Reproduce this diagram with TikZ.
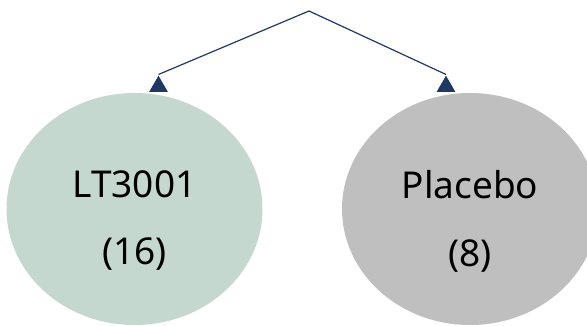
\documentclass[tikz,border=0pt]{standalone}
\usepackage{fontspec}
\setmainfont{Noto Sans}
\usetikzlibrary{shapes.geometric,positioning}
\definecolor{armgreen}{HTML}{C4D8CF}
\definecolor{armgray}{HTML}{BFBFBF}
\definecolor{linenavy}{HTML}{1F3864}

\begin{document}
\begin{tikzpicture}[x=1pt,y=1pt,line width=1.2pt,
    arm/.style={ellipse,minimum width=256pt,minimum height=232pt,inner sep=0pt,draw=none},
    tip/.style={regular polygon,regular polygon sides=3,minimum size=21.5pt,inner sep=0pt,fill=linenavy,draw=none},
    lbl/.style={anchor=base,inner sep=0pt,font=\fontsize{37}{40}\selectfont}]
            \clip (0,0) rectangle (587,326);

            \node[arm,fill=armgreen] (lt) at (134.5,117) {};
            \node[arm,fill=armgray] (pl) at (470,117) {};

            \node[lbl] (ltname) at ([yshift=11pt]lt.center) {LT3001};
            \node[lbl] (ltn) at ([yshift=-56pt]lt.center) {(16)};
            \node[lbl] (plname) at ([yshift=10pt]pl.center) {Placebo};
            \node[lbl] (pln) at ([yshift=-58pt]pl.center) {(8)};

            \node[tip,anchor=south] (lttip) at ([xshift=24pt]lt.north) {};
            \node[tip,anchor=south] (pltip) at ([xshift=-24pt]pl.north) {};

            \coordinate (top) at (309,315);
            \draw[linenavy] (top) -- (lttip.corner 1);
            \draw[linenavy] (top) -- (pltip.corner 1);
        \end{tikzpicture}
\end{document}
